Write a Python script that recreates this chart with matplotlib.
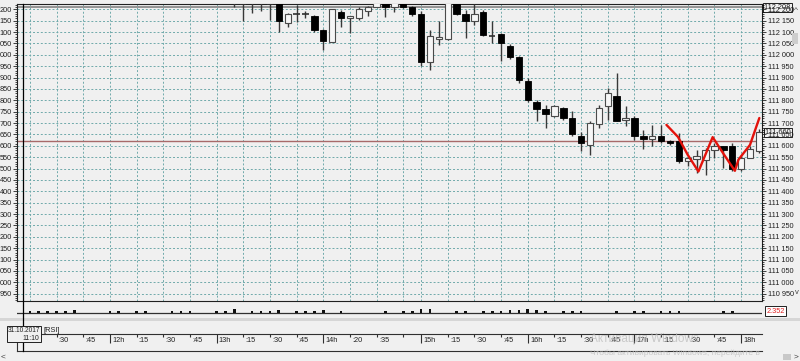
import numpy as np
import matplotlib
matplotlib.use('Agg')
import matplotlib.pyplot as plt
from matplotlib.patches import Rectangle
from matplotlib.lines import Line2D
from matplotlib.ticker import MultipleLocator, FuncFormatter, FixedLocator
from matplotlib.transforms import blended_transform_factory

plt.rcParams['font.family'] = ['Liberation Sans', 'DejaVu Sans']

# 5-minute bars, index 0 = 11:10 on 31.10.2017 (bars above 112.22 are off the chart)
bar_idx = list(range(24, 84))
opens = [112.240, 112.222, 112.240, 112.240, 112.222, 112.235, 112.139, 112.178, 112.178, 112.171,
         112.109, 112.058, 112.189, 112.160, 112.160, 112.192, 112.209, 112.235, 112.209, 112.235,
         112.209, 112.179, 111.970, 112.070, 112.070, 112.240, 112.179, 112.150, 112.189, 112.083,
         112.090, 112.039, 111.992, 111.883, 111.792, 111.762, 111.731, 111.765, 111.724, 111.644,
         111.604, 111.695, 111.776, 111.821, 111.712, 111.722, 111.644, 111.632, 111.641, 111.623,
         111.623, 111.531, 111.541, 111.539, 111.583, 111.597, 111.597, 111.498, 111.546, 111.575]
highs = [112.245, 112.240, 112.245, 112.245, 112.240, 112.240, 112.185, 112.219, 112.193, 112.175,
         112.113, 112.202, 112.197, 112.171, 112.209, 112.215, 112.240, 112.240, 112.240, 112.240,
         112.214, 112.194, 112.109, 112.149, 112.245, 112.245, 112.197, 112.222, 112.197, 112.150,
         112.094, 112.048, 111.995, 111.897, 111.802, 111.780, 111.780, 111.772, 111.751, 111.660,
         111.707, 111.780, 111.853, 111.919, 111.775, 111.729, 111.670, 111.692, 111.692, 111.625,
         111.656, 111.550, 111.583, 111.590, 111.612, 111.600, 111.612, 111.560, 111.597, 111.673]
lows = [112.211, 112.150, 112.182, 112.192, 112.153, 112.099, 112.124, 112.146, 112.161, 112.102,
        112.021, 112.058, 112.124, 112.095, 112.153, 112.171, 112.209, 112.165, 112.189, 112.207,
        112.171, 111.952, 111.934, 112.043, 112.065, 112.176, 112.073, 112.131, 112.083, 112.051,
        111.973, 111.980, 111.875, 111.794, 111.707, 111.678, 111.728, 111.714, 111.641, 111.575,
        111.560, 111.678, 111.714, 111.707, 111.688, 111.626, 111.585, 111.597, 111.612, 111.604,
        111.524, 111.509, 111.480, 111.473, 111.546, 111.502, 111.487, 111.487, 111.546, 111.568]
closes = [112.235, 112.221, 112.235, 112.235, 112.221, 112.150, 112.178, 112.178, 112.178, 112.109,
          112.061, 112.200, 112.160, 112.171, 112.201, 112.209, 112.235, 112.209, 112.235, 112.209,
          112.179, 111.970, 112.083, 112.080, 112.240, 112.178, 112.150, 112.179, 112.087, 112.083,
          112.051, 111.992, 111.890, 111.802, 111.762, 111.740, 111.776, 111.722, 111.651, 111.614,
          111.702, 111.765, 111.831, 111.711, 111.722, 111.641, 111.632, 111.644, 111.623, 111.614,
          111.534, 111.546, 111.553, 111.583, 111.597, 111.583, 111.498, 111.546, 111.585, 111.660]

# indicator sub-window (one value per bar index 0..83)
ind_vals = [0, 2.5, 2.5, 2, 2, 2, 3, 0, 0, 0, 2.5, 2.5, 0, 2, 2, 0, 0, 2, 2, 2,
            0, 0, 2, 2.5, 4, 0, 2.5, 2.5, 2.5, 3, 0, 2, 2, 2.5, 3.5, 0, 2, 0, 0, 0,
            0, 2, 0, 2, 2, 4.5, 4, 0, 0, 2, 2, 0, 2, 2, 2.5, 3, 3, 4, 3, 2,
            0, 2, 2, 2, 0, 0, 0, 2, 0, 2, 2, 0, 2, 2, 2, 0, 0, 0, 0, 2,
            2, 0, 0, 0]
ind_last = '2.352'

# time scale
tick_idx = [1, 4, 7, 10, 13, 16, 19, 22, 25, 28, 31, 34, 37, 40, 43, 45, 48, 51, 54, 57,
            60, 63, 66, 69, 72, 75, 78, 81]
tick_lbl = ['', ':30', ':45', '12h', ':15', ':30', ':45', '13h', ':15', ':30', ':45', '14h',
            ':20', ':35', '', '15h', ':15', ':30', ':45', '16h', ':15', ':30', ':45', '17h',
            ':15', ':30', ':45', '18h']

# price levels
level_top = 112.208
level_line = 111.619

# hand-drawn red line
red_x = [72.6, 73.9, 75.0, 76.2, 77.8, 79.1, 80.3, 80.7, 82.0, 83.05]
red_y = [111.692, 111.639, 111.560, 111.487, 111.638, 111.560, 111.490, 111.539, 111.604, 111.722]

W, H = 800, 361
BG = '#f0f0f0'
GRID = '#6fa9aa'
FS = 5.3
fig = plt.figure(figsize=(W / 100, H / 100), dpi=100, facecolor=BG)


def px_axes(x0, y0, x1, y1):
    return fig.add_axes([x0 / W, 1 - y1 / H, (x1 - x0) / W, (y1 - y0) / H])


def ftext(x, y, s, **kw):
    return fig.text(x / W, 1 - y / H, s, **kw)


XLIM = (-0.45, 83.35)

# ---- main price window
ax = px_axes(17, 3.5, 762, 300.7)
ax.set_facecolor(BG)
ax.set_xlim(*XLIM)
ax.set_ylim(110.919, 112.2255)
ax.set_axisbelow(True)
for s in ax.spines.values():
    s.set_color('#202020')
    s.set_linewidth(0.8)

yt = np.round(np.arange(110.95, 112.2001, 0.05), 3)
ax.yaxis.set_major_locator(FixedLocator(yt))
ax.yaxis.set_minor_locator(MultipleLocator(0.01))
ax.yaxis.set_major_formatter(FuncFormatter(lambda v, _: f'{v:.3f}'[-3:]))
ax.tick_params(axis='y', which='major', length=3, width=0.6, labelsize=FS, pad=0.5, colors='#202020')
ax.tick_params(axis='y', which='minor', length=1.5, width=0.5)
ax.set_xticks(tick_idx)
ax.tick_params(axis='x', length=0, labelbottom=False)
ax.grid(True, color=GRID, linestyle=(0, (2, 2)), linewidth=0.7)

ax2 = ax.twinx()
ax2.set_ylim(ax.get_ylim())
ax2.yaxis.set_major_locator(FixedLocator(yt))
ax2.yaxis.set_minor_locator(MultipleLocator(0.01))
ax2.yaxis.set_major_formatter(FuncFormatter(lambda v, _: f'{v:.3f}'.replace('.', ' ')))
ax2.tick_params(axis='y', which='major', length=3, width=0.6, labelsize=FS, pad=1, colors='#202020')
ax2.tick_params(axis='y', which='minor', length=1.5, width=0.5)
for s in ax2.spines.values():
    s.set_visible(False)

ax.axhline(level_top, color='#8c8c8c', lw=1.3, zorder=2)
ax.axhline(level_line, color='#a86a6a', lw=1.0, zorder=2)

bw = 0.72
for i, o, h, l, c in zip(bar_idx, opens, highs, lows, closes):
    ax.vlines(i, l, h, color='#383838', lw=1.0, zorder=3)
    if abs(c - o) < 0.0025:
        ax.hlines((o + c) / 2, i - bw / 2, i + bw / 2, color='#303030', lw=1.2, zorder=4)
    elif c < o:
        ax.add_patch(Rectangle((i - bw / 2, c), bw, o - c, facecolor='black',
                               edgecolor='black', lw=0.6, zorder=4))
    else:
        ax.add_patch(Rectangle((i - bw / 2, o), bw, c - o, facecolor='#f6f6f6',
                               edgecolor='#4a4a4a', lw=0.8, zorder=4))

ax.plot(red_x, red_y, color='#e3120b', lw=1.7, zorder=6, solid_capstyle='round',
        solid_joinstyle='round')

ytr = blended_transform_factory(ax.transAxes, ax.transData)
ax.text(1.003, level_top, '112 208', transform=ytr, fontsize=FS, va='center', ha='left',
        color='#202020', clip_on=False, zorder=8,
        bbox=dict(boxstyle='square,pad=0.15', fc=BG, ec='#202020', lw=0.7))
ax.text(1.004, closes[-1], f'{closes[-1]:.3f}'.replace('.', ' '), transform=ytr, fontsize=FS,
        va='center', ha='left', color='#202020', clip_on=False, zorder=8,
        bbox=dict(boxstyle='square,pad=0.15', fc=BG, ec='#202020', lw=0.7))

# ---- indicator sub-window
axs = px_axes(17, 303, 762, 316)
axs.set_facecolor(BG)
axs.set_xlim(*XLIM)
axs.set_ylim(-2.7, 10.3)
axs.bar(range(len(ind_vals)), ind_vals, width=0.3, color='#101010', zorder=3)
axs.axhline(0, color='#303030', lw=0.9)
axs.set_xticks([])
axs.set_yticks([])
for s in axs.spines.values():
    s.set_visible(False)
axs.text(1.006, 0.35, ind_last, transform=axs.transAxes, fontsize=FS, color='#e02020',
         va='center', ha='left', clip_on=False,
         bbox=dict(boxstyle='square,pad=0.2', fc='white', ec='#202020', lw=0.7))

fig.add_artist(Rectangle((0, 1 - 321 / H), 1, 3 / H, transform=fig.transFigure,
                         facecolor='#d6d6d6', edgecolor='none'))

# ---- time scale
axt = px_axes(17, 334, 762, 351)
axt.set_facecolor(BG)
axt.set_xlim(*XLIM)
axt.set_ylim(0, 1)
axt.set_xticks([])
axt.set_yticks([])
axt.spines['right'].set_visible(False)
for s in ['top', 'bottom', 'left']:
    axt.spines[s].set_color('#303030')
    axt.spines[s].set_linewidth(0.8)
for x, lab in zip(tick_idx, tick_lbl):
    hour = lab.endswith('h')
    axt.vlines(x, 0.45 if hour else 0.8, 1, color='#303030', lw=0.8)
    if lab:
        axt.text(x + 0.25, 0.62, lab, fontsize=FS, va='center', ha='left', color='#202020')

# cursor line with its date box
ctr = blended_transform_factory(ax.transData, fig.transFigure)
fig.add_artist(Line2D([0.2, 0.2], [1 - 3.5 / H, 1 - 351 / H], transform=ctr, color='black', lw=0.9))
fig.add_artist(Rectangle((7 / W, 1 - 341.5 / H), 34 / W, 15.5 / H, transform=fig.transFigure,
                         facecolor=BG, edgecolor='#202020', lw=0.7, zorder=5))
ftext(8, 330, '31.10.2017', fontsize=4.7, va='center', ha='left', color='#202020', zorder=6)
ftext(39.5, 338.5, '11:10', fontsize=4.9, va='center', ha='right', color='#202020', zorder=6)
ftext(43, 330, '[RSI]', fontsize=FS, va='center', ha='left', color='#202020')

# scroll arrows and thumbs
ftext(796, 10, '^', fontsize=6, va='center', ha='center', color='#404040')
ftext(797, 293, 'v', fontsize=5.5, va='center', ha='center', color='#404040')
fig.add_artist(Rectangle((792 / W, 1 - 44 / H), 6 / W, 11 / H, transform=fig.transFigure,
                         facecolor='#cdcdcd', edgecolor='none'))
ftext(3, 357, '<', fontsize=6, va='center', ha='center', color='#404040')
ftext(796, 357, '>', fontsize=6, va='center', ha='center', color='#404040')
fig.add_artist(Rectangle((783 / W, 1 - 360 / H), 8 / W, 6 / H, transform=fig.transFigure,
                         facecolor='#c8c8c8', edgecolor='none'))

# activation watermark
ftext(590, 339, 'Активация Windows', fontsize=8.5, color='#bcbcbc', va='center', ha='left', alpha=0.75)
ftext(590, 353, 'Чтобы активировать Windows, перейдите в', fontsize=6, color='#bcbcbc',
      va='center', ha='left', alpha=0.75)

fig.savefig('out.png', dpi=100, facecolor=BG)
